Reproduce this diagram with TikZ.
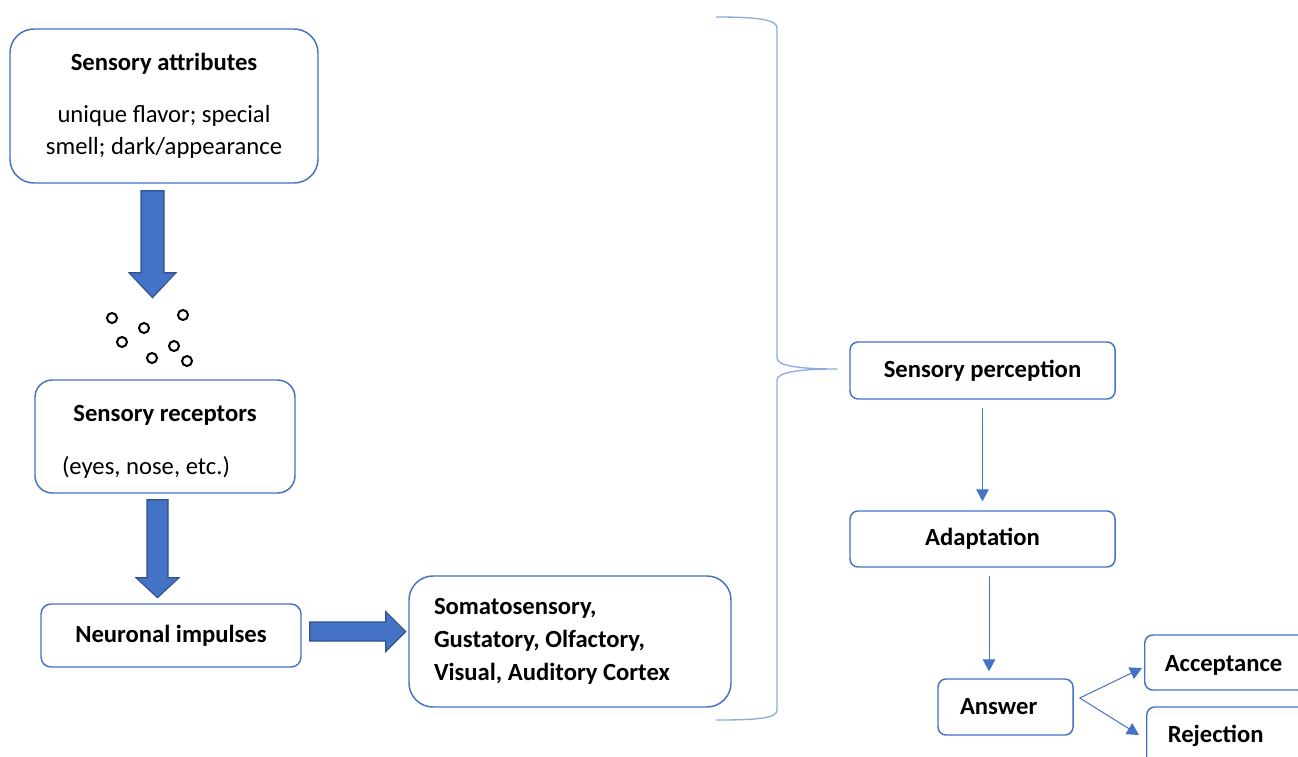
\documentclass[tikz,border=0pt]{standalone}
\usepackage{fontspec}
\setmainfont{Carlito}
\usetikzlibrary{positioning, calc, arrows.meta}
\definecolor{boxblue}{RGB}{68, 114, 196}
\definecolor{arrowedge}{RGB}{47, 82, 143}
\definecolor{braceblue}{RGB}{143, 170, 220}

\begin{document}
\begin{tikzpicture}[x=0.75pt, y=-0.75pt,
	every node/.style={font=\fontsize{18.5}{24}\selectfont},
	box/.style={draw=boxblue, line width=1.1pt, rounded corners=#1, fill=white},
	box/.default=6pt,
	thinarrow/.style={draw=boxblue, line width=0.75pt, -{Triangle[length=9pt, width=9.5pt]}},
	blockarrow/.style={fill=boxblue, draw=arrowedge, line width=0.8pt, line join=miter},
	dot/.style={circle, draw=black, fill=white, line width=1.5pt, inner sep=0pt, minimum size=7.5pt}]
				\useasboundingbox (0,0) rectangle (1298,756);
				\clip (0,0) rectangle (1298,756);
				
				% left column
				\node [box=18pt, minimum width=231pt, minimum height=115.5pt, align=center] (attributes) at (164,106)
				{\textbf{Sensory attributes}\\[15pt]unique flavor; special\\smell; dark/appearance};
				
				\foreach \x/\y [count=\i] in {112/318, 144/328, 183/315, 122/342, 174/346, 152/358, 187/361}
				\node [dot] (dot\i) at (\x,\y) {};
				
				\node [box=13pt, minimum width=195pt, minimum height=84.75pt, text width=154.5pt, inner xsep=20.25pt, align=flush left] (receptors) at (165,436.5)
				{\rule{0pt}{19.5pt}\makebox[\hsize]{\textbf{Sensory receptors}}\\[15.75pt](eyes, nose, etc.)};
				
				\node [box=7.5pt, minimum width=195pt, minimum height=47.25pt] (impulses) at (171,635.5) {\textbf{Neuronal impulses}};
				
				\node [box=18pt, minimum width=241.5pt, minimum height=98.25pt, text width=204pt, inner xsep=18.75pt, align=flush left,
				font=\fontsize{18.5}{24.75}\selectfont] (cortex) at (570,641.5)
				{\textbf{Somatosensory,}\\\textbf{Gustatory, Olfactory,}\\\textbf{Visual, Auditory Cortex}};
				
				% right column
				\node [box, minimum width=198.75pt, minimum height=42.75pt] (perception) at (982.5,370.5) {\textbf{Sensory perception}};
				\node [box, minimum width=198.75pt, minimum height=42pt] (adaptation) at (982.5,539) {\textbf{Adaptation}};
				\node [box, minimum width=101.25pt, minimum height=42pt, text width=68.25pt, inner xsep=16.5pt, align=flush left] (answer) at (1005.5,707) {\textbf{Answer}};
				\node [box, anchor=west, minimum width=135pt, minimum height=41.25pt, text width=105pt, inner xsep=15pt, align=flush left] (acceptance) at (1144,662.5) {\rule{0pt}{16pt}\textbf{Acceptance}};
				\node [box, anchor=west, minimum width=135pt, minimum height=43.5pt, text width=103.5pt, inner xsep=15.75pt, align=flush left] (rejection) at (1146,736) {\textbf{Rejection}};
				
				% block arrows
				\draw [blockarrow] ($(attributes.south)+(-23,7)$) -- ++(0,82) -- ++(-12,0) -- ++(23.5,25) -- ++(23.5,-25) -- ++(-12,0) -- ++(0,-82) -- cycle;
				\draw [blockarrow] ($(receptors.south)+(-18,6)$) -- ++(0,78) -- ++(-11,0) -- ++(21.5,20) -- ++(21.5,-20) -- ++(-11,0) -- ++(0,-78) -- cycle;
				\draw [blockarrow] ($(impulses.east)+(8,-13.5)$) -- ++(76,0) -- ++(0,-10.5) -- ++(20,20) -- ++(-20,20) -- ++(0,-10.5) -- ++(-76,0) -- cycle;
				
				% brace
				\coordinate (bracetip) at ($(perception.west)+(-12,-1.5)$);
				\draw [braceblue, line width=1pt] (716,17) .. controls (760,17) and (777,20) .. (777,28) -- (777,358)
				.. controls (777,366) and (800,369) .. (bracetip)
				.. controls (800,369) and (777,372) .. (777,380) -- (777,710)
				.. controls (777,718) and (760,720) .. (716,720);
				
				% thin arrows
				\draw [thinarrow, shorten <=6pt, shorten >=6.75pt] (perception.south) -- (adaptation.south |- adaptation.north);
				\draw [thinarrow, shorten <=6pt, shorten >=5.25pt] ([xshift=4.875pt]adaptation.south) -- ([xshift=-12.375pt]answer.north);
				\draw [thinarrow] ([shift={(6,-9)}]answer.east) -- ([shift={(-2,5.5)}]acceptance.west);
				\draw [thinarrow] ([shift={(6,-9)}]answer.east) -- ([shift={(-7,-1)}]rejection.west);
				\end{tikzpicture}
\end{document}
